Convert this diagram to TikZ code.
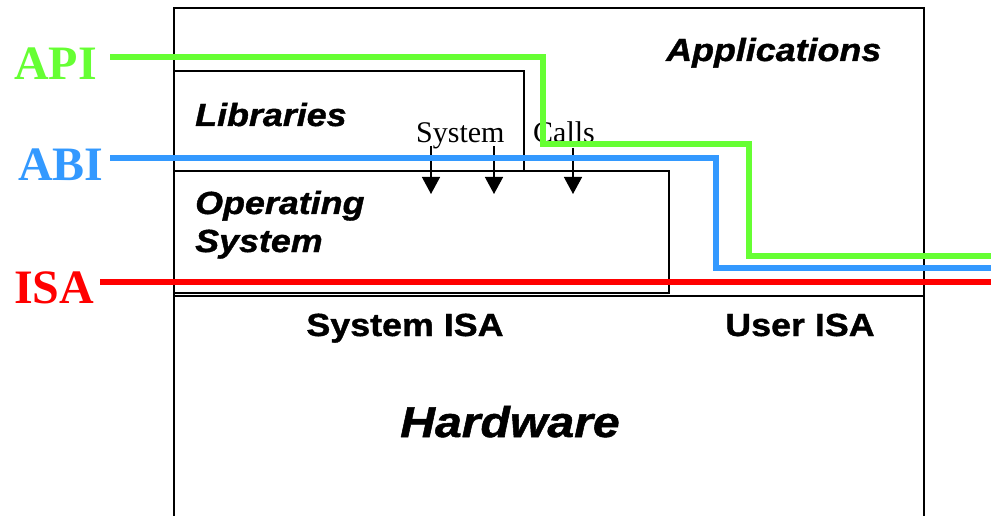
\documentclass[tikz,border=0pt]{standalone}
\usepackage{fontspec}
\setmainfont{Liberation Serif}
\newfontfamily\hv[FakeStretch=1.12,FakeBold=1.2]{Liberation Sans}
\usetikzlibrary{arrows.meta}
\definecolor{apigreen}{RGB}{102,255,51}
\definecolor{abiblue}{RGB}{51,153,255}
\definecolor{isared}{RGB}{255,0,0}
\begin{document}
\begin{tikzpicture}[x=1pt,y=-1pt,
  box/.style={draw=black,line width=1.4pt},
  iface/.style={line width=6pt},
  lbl/.style={inner sep=0pt,font=\hv\bfseries\itshape\fontsize{32}{36}\selectfont},
  isalbl/.style={inner sep=0pt,font=\hv\bfseries\fontsize{32}{36}\selectfont},
  big/.style={inner sep=0pt,font=\bfseries\fontsize{48}{50}\selectfont},
  sc/.style={inner sep=0pt,font=\fontsize{30}{32}\selectfont},
  callarrow/.style={line width=1.4pt,-{Triangle[length=17pt,width=18pt]}}]
\useasboundingbox (0,0) rectangle (991,516);
% boxes
\draw[box] (174,516) -- (174,8) -- (924,8) -- (924,516);
\draw[box] (174,71) -- (524,71) -- (524,171);
\draw[box] (174,171) -- (669,171) -- (669,293) -- (174,293);
\draw[box] (174,296) -- (924,296);
% texts
\node[lbl,anchor=base west] (apps) at (666,61) {Applications};
\node[lbl,anchor=base west] (libs) at (195,126) {Libraries};
\node[lbl,anchor=base west] (os1) at (195,214) {Operating};
\node[lbl,anchor=base west] (os2) at (195,252) {System};
\node[isalbl,anchor=base] (sysisa) at (405,336) {System ISA};
\node[isalbl,anchor=base] (userisa) at (800,336) {User ISA};
\node[inner sep=0pt,font=\hv\bfseries\itshape\fontsize{43}{46}\selectfont,anchor=base] (hw) at (510,437) {Hardware};
\node[sc,anchor=base west] (sys) at (416,143) {System};
\node[sc,anchor=base west] (calls) at (533,143) {Calls};
% system call arrows
\coordinate (a1s) at (431,146); \coordinate (a1e) at (431,194);
\coordinate (a2s) at (494,146); \coordinate (a2e) at (494,194);
\coordinate (a3s) at (573,148); \coordinate (a3e) at (573,194);
\draw[callarrow] (a1s) -- (a1e);
\draw[callarrow] (a2s) -- (a2e);
\draw[callarrow] (a3s) -- (a3e);
% interface labels
\node[big,text=apigreen,anchor=base west] (api) at (14,80) {API};
\node[big,text=abiblue,anchor=base west] (abi) at (18,180) {ABI};
\node[big,text=isared,anchor=base west] (isa) at (14,303) {ISA};
\coordinate (apiS) at (110,57);
\coordinate (abiS) at (110,158);
\coordinate (isaS) at (100,282);
\coordinate (apiE) at (991,256);
\coordinate (abiE) at (991,268);
\coordinate (isaE) at (991,282);
\draw[iface,apigreen] (apiS) -- (543,57) -- (543,144) -- (749,144) -- (749,256) -- (apiE);
\draw[iface,abiblue] (abiS) -- (716,158) -- (716,268) -- (abiE);
\draw[iface,isared] (isaS) -- (isaE);
\end{tikzpicture}
\end{document}
